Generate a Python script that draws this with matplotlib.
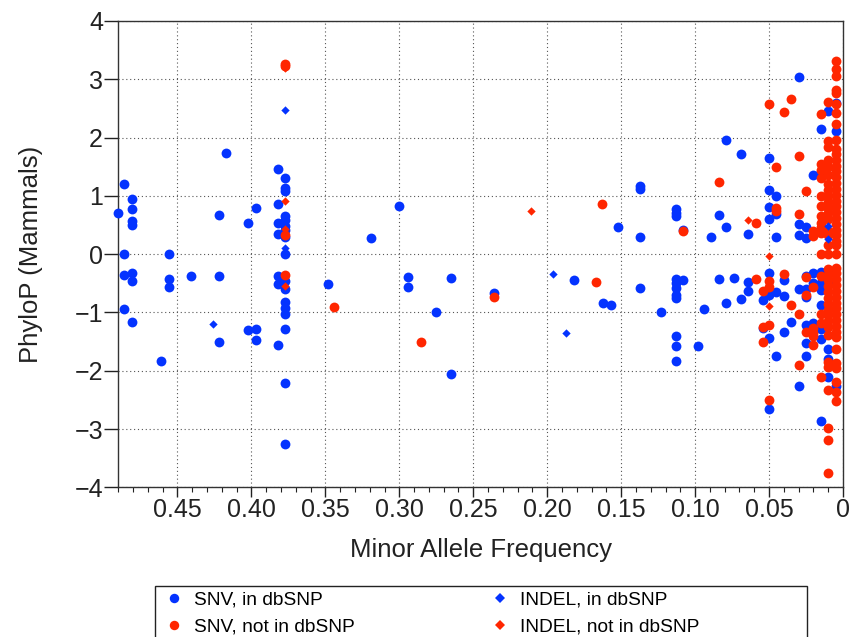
import numpy as np
import matplotlib.pyplot as plt
from matplotlib.lines import Line2D
from matplotlib.patches import Rectangle

plt.rcParams['font.family'] = ['Liberation Sans', 'DejaVu Sans']

# (minor allele frequency, PhyloP)
snv_db = [
    (0.490, 0.70), (0.486, 1.20), (0.481, 0.95), (0.481, 0.77), (0.481, 0.57), (0.481, 0.50),
    (0.486, 0.00), (0.486, -0.35), (0.481, -0.33), (0.481, -0.46), (0.486, -0.94), (0.481, -1.17),
    (0.461, -1.84), (0.456, 0.00), (0.456, -0.43), (0.456, -0.57), (0.441, -0.37),
    (0.422, 0.68), (0.422, -0.37), (0.422, -1.50), (0.417, 1.74),
    (0.402, 0.54), (0.402, -1.30), (0.397, 0.79), (0.397, -1.29), (0.397, -1.47),
    (0.382, 1.46), (0.382, 0.86), (0.382, 0.53), (0.382, 0.35), (0.382, -0.37), (0.382, -0.52),
    (0.382, -1.56),
    (0.377, 1.31), (0.377, 1.14), (0.377, 1.08), (0.377, 0.66), (0.377, 0.58), (0.377, 0.48),
    (0.377, 0.41), (0.377, 0.29), (0.377, 0.00), (0.377, -0.46), (0.377, -0.60), (0.377, -0.82),
    (0.377, -0.93), (0.377, -1.03), (0.377, -1.28), (0.377, -2.21), (0.377, -3.25),
    (0.348, -0.51), (0.319, 0.28), (0.300, 0.82), (0.294, -0.40), (0.294, -0.57), (0.275, -1.00),
    (0.265, -0.41), (0.265, -2.06), (0.236, -0.67), (0.182, -0.45), (0.162, -0.84), (0.157, -0.87),
    (0.152, 0.47), (0.137, 1.17), (0.137, 1.12), (0.137, 0.30), (0.137, -0.58), (0.123, -1.00),
    (0.113, 0.77), (0.113, 0.70), (0.113, 0.65), (0.113, -0.42), (0.113, -0.49), (0.113, -0.58),
    (0.113, -0.70), (0.113, -0.75), (0.113, -1.41), (0.113, -1.58), (0.113, -1.84),
    (0.108, 0.42), (0.108, -0.45), (0.098, -1.58), (0.094, -0.94), (0.089, 0.30),
    (0.084, 0.68), (0.084, -0.42), (0.079, 1.96), (0.079, 0.46), (0.079, -0.84), (0.074, -0.41),
    (0.069, 1.72), (0.069, -0.77), (0.064, 0.35), (0.064, -0.47), (0.064, -0.63),
    (0.054, -0.78), (0.054, -1.27),
    (0.050, 1.65), (0.050, 1.10), (0.050, 0.81), (0.050, 0.61), (0.050, -0.33), (0.050, -0.70),
    (0.050, -1.44), (0.050, -2.66),
    (0.045, 1.00), (0.045, 0.69), (0.045, 0.30), (0.045, -0.65), (0.045, -1.75),
    (0.040, -0.44), (0.040, -0.71), (0.040, -1.33), (0.035, -1.17),
    (0.030, 3.04), (0.030, 0.51), (0.030, 0.32), (0.030, -0.60), (0.030, -2.26),
    (0.025, 0.47), (0.025, 0.27), (0.025, -0.37), (0.025, -0.59), (0.025, -0.73), (0.025, -1.22),
    (0.025, -1.53), (0.025, -1.75),
    (0.020, 1.36), (0.020, -0.33), (0.020, -0.50), (0.020, -1.18),
    (0.015, 2.15), (0.015, 1.41), (0.015, -0.30), (0.015, -0.50), (0.015, -0.62), (0.015, -0.87),
    (0.015, -1.29), (0.015, -1.45), (0.015, -2.86),
    (0.010, 2.46), (0.010, -0.30), (0.010, -0.50), (0.010, -1.63), (0.010, -1.80), (0.010, -2.10),
    (0.005, 2.60), (0.005, 2.11), (0.005, -2.26),
]

snv_new = [
    (0.377, 3.27), (0.377, 3.22), (0.377, 0.33), (0.377, -0.35),
    (0.344, -0.91), (0.285, -1.51), (0.236, -0.73), (0.167, -0.47), (0.163, 0.86), (0.108, 0.40),
    (0.084, 1.24), (0.059, 0.54), (0.059, -0.43), (0.054, -0.63), (0.054, -1.25), (0.054, -1.50),
    (0.050, 2.58), (0.050, -0.46), (0.050, -0.56), (0.050, -1.22), (0.050, -2.50),
    (0.045, 1.49), (0.045, 0.80), (0.045, 0.74), (0.040, 2.44), (0.040, -0.34),
    (0.035, 2.66), (0.035, -0.88),
    (0.030, 1.69), (0.030, 0.69), (0.030, -1.03), (0.030, -1.91),
    (0.025, 1.08), (0.025, -0.40), (0.025, -0.70), (0.025, -1.33),
    (0.020, 0.40), (0.020, 0.31), (0.020, -0.57), (0.020, -1.27), (0.020, -1.36), (0.020, -1.41),
    (0.020, -1.56),
    (0.015, 2.40), (0.015, 1.54), (0.015, 1.45), (0.015, 1.30), (0.015, 1.00), (0.015, 0.82),
    (0.015, 0.65), (0.015, 0.54), (0.015, 0.47), (0.015, 0.36), (0.015, 0.00), (0.015, -0.38),
    (0.015, -1.02), (0.015, -1.18), (0.015, -2.10),
    (0.010, 2.61), (0.010, 1.94), (0.010, 1.84), (0.010, 1.62), (0.010, 1.50), (0.010, 1.35),
    (0.010, 1.21), (0.010, 1.10), (0.010, 1.00), (0.010, 0.90), (0.010, 0.80), (0.010, 0.70),
    (0.010, 0.60), (0.010, 0.40), (0.010, 0.33), (0.010, 0.15), (0.010, 0.00), (0.010, -0.25),
    (0.010, -0.35), (0.010, -0.45), (0.010, -0.55), (0.010, -0.65), (0.010, -0.75), (0.010, -0.85),
    (0.010, -0.95), (0.010, -1.05), (0.010, -1.15), (0.010, -1.25), (0.010, -1.38), (0.010, -1.85),
    (0.010, -1.93), (0.010, -2.33), (0.010, -2.99), (0.010, -3.19), (0.010, -3.76),
    (0.005, 3.32), (0.005, 3.17), (0.005, 3.05), (0.005, 2.81), (0.005, 2.77), (0.005, 2.57),
    (0.005, 2.42), (0.005, 2.24), (0.005, 1.95), (0.005, 1.81), (0.005, 1.72), (0.005, 1.62),
    (0.005, 1.52), (0.005, 1.42), (0.005, 1.32), (0.005, 1.22), (0.005, 1.12), (0.005, 1.02),
    (0.005, 0.92), (0.005, 0.82), (0.005, 0.72), (0.005, 0.62), (0.005, 0.52), (0.005, 0.42),
    (0.005, 0.32), (0.005, 0.22), (0.005, 0.16), (0.005, 0.00), (0.005, -0.23), (0.005, -0.33),
    (0.005, -0.43), (0.005, -0.53), (0.005, -0.63), (0.005, -0.73), (0.005, -0.83), (0.005, -0.93),
    (0.005, -1.03), (0.005, -1.13), (0.005, -1.23), (0.005, -1.33), (0.005, -1.42), (0.005, -1.62),
    (0.005, -1.87), (0.005, -1.96), (0.005, -2.19), (0.005, -2.36), (0.005, -2.52),
]

indel_db = [(0.377, 2.48), (0.377, 0.10), (0.426, -1.20), (0.196, -0.34), (0.187, -1.36),
            (0.010, 0.49), (0.010, 0.26)]

indel_new = [(0.377, 3.20), (0.377, 0.92), (0.377, 0.44), (0.377, -0.54), (0.211, 0.74),
             (0.064, 0.58), (0.050, -0.04), (0.050, -0.89)]

series_labels = ['SNV, in dbSNP', 'SNV, not in dbSNP', 'INDEL, in dbSNP', 'INDEL, not in dbSNP']
maf_ticks = [0.45, 0.40, 0.35, 0.30, 0.25, 0.20, 0.15, 0.10, 0.05, 0]
maf_tick_labels = ['0.45', '0.40', '0.35', '0.30', '0.25', '0.20', '0.15', '0.10', '0.05', '0']
phylop_ticks = [-4, -3, -2, -1, 0, 1, 2, 3, 4]

BLUE = '#0433ff'
RED = '#ff2600'

fig = plt.figure(figsize=(8.5, 6.37), dpi=100)
ax = fig.add_axes([118.3 / 850, 1 - 487.3 / 637, 724.7 / 850, 466.3 / 637])

styles = [('o', BLUE, 50), ('o', RED, 50), ('D', BLUE, 18), ('D', RED, 18)]
for pts, (mk, col, sz) in zip([snv_db, snv_new, indel_db, indel_new], styles):
    x, y = zip(*pts)
    ax.scatter(x, y, marker=mk, s=sz, color=col, linewidths=0, zorder=3, clip_on=False)

ax.set_xlim(0.49, 0)
ax.set_ylim(-4, 4)
ax.set_xticks(maf_ticks, maf_tick_labels)
ax.set_xticks(np.arange(0, 0.4901, 0.01), minor=True)
ax.set_yticks(phylop_ticks)

ax.tick_params(axis='x', which='major', direction='out', length=7, width=1, labelsize=18, pad=0.5, colors='#222222')
ax.tick_params(axis='x', which='minor', direction='out', length=3.5, width=0.8, colors='#222222')
ax.tick_params(axis='y', which='major', direction='out', length=10, width=1, labelsize=18, pad=1, colors='#222222')
for s in ax.spines.values():
    s.set_color('#333333')
    s.set_linewidth(1)

ax.grid(True, which='major', linestyle=(0, (1, 2.5)), color='#555555', linewidth=0.8)
ax.set_axisbelow(True)

ax.set_xlabel('Minor Allele Frequency', fontsize=18.5, color='#222222')
ax.set_ylabel('PhyloP (Mammals)', fontsize=18.5, color='#222222')
ax.xaxis.set_label_coords(0.5, -0.109)
ax.yaxis.set_label_coords(-0.104, 0.5)

handles = [
    Line2D([], [], linestyle='', marker='o', markersize=6.8, markerfacecolor=BLUE, markeredgewidth=0),
    Line2D([], [], linestyle='', marker='o', markersize=6.8, markerfacecolor=RED, markeredgewidth=0),
    Line2D([], [], linestyle='', marker='D', markersize=4.6, markerfacecolor=BLUE, markeredgewidth=0),
    Line2D([], [], linestyle='', marker='D', markersize=4.6, markerfacecolor=RED, markeredgewidth=0),
]
leg_kw = dict(loc='upper left', frameon=False, fontsize=13.8, handlelength=1.5,
              handletextpad=0.3, labelspacing=0.5, borderpad=0, borderaxespad=0)
fig.legend(handles[:2], series_labels[:2], bbox_to_anchor=(160 / 850, 1 - 591 / 637), **leg_kw)
fig.legend(handles[2:], series_labels[2:], bbox_to_anchor=(485.6 / 850, 1 - 591 / 637), **leg_kw)

fig.add_artist(Rectangle((154.5 / 850, -0.05), (807 - 154.5) / 850, 1 - 586 / 637 + 0.05,
                         transform=fig.transFigure, fill=False, edgecolor='#222222', linewidth=1))

fig.savefig('out.png', dpi=100)
